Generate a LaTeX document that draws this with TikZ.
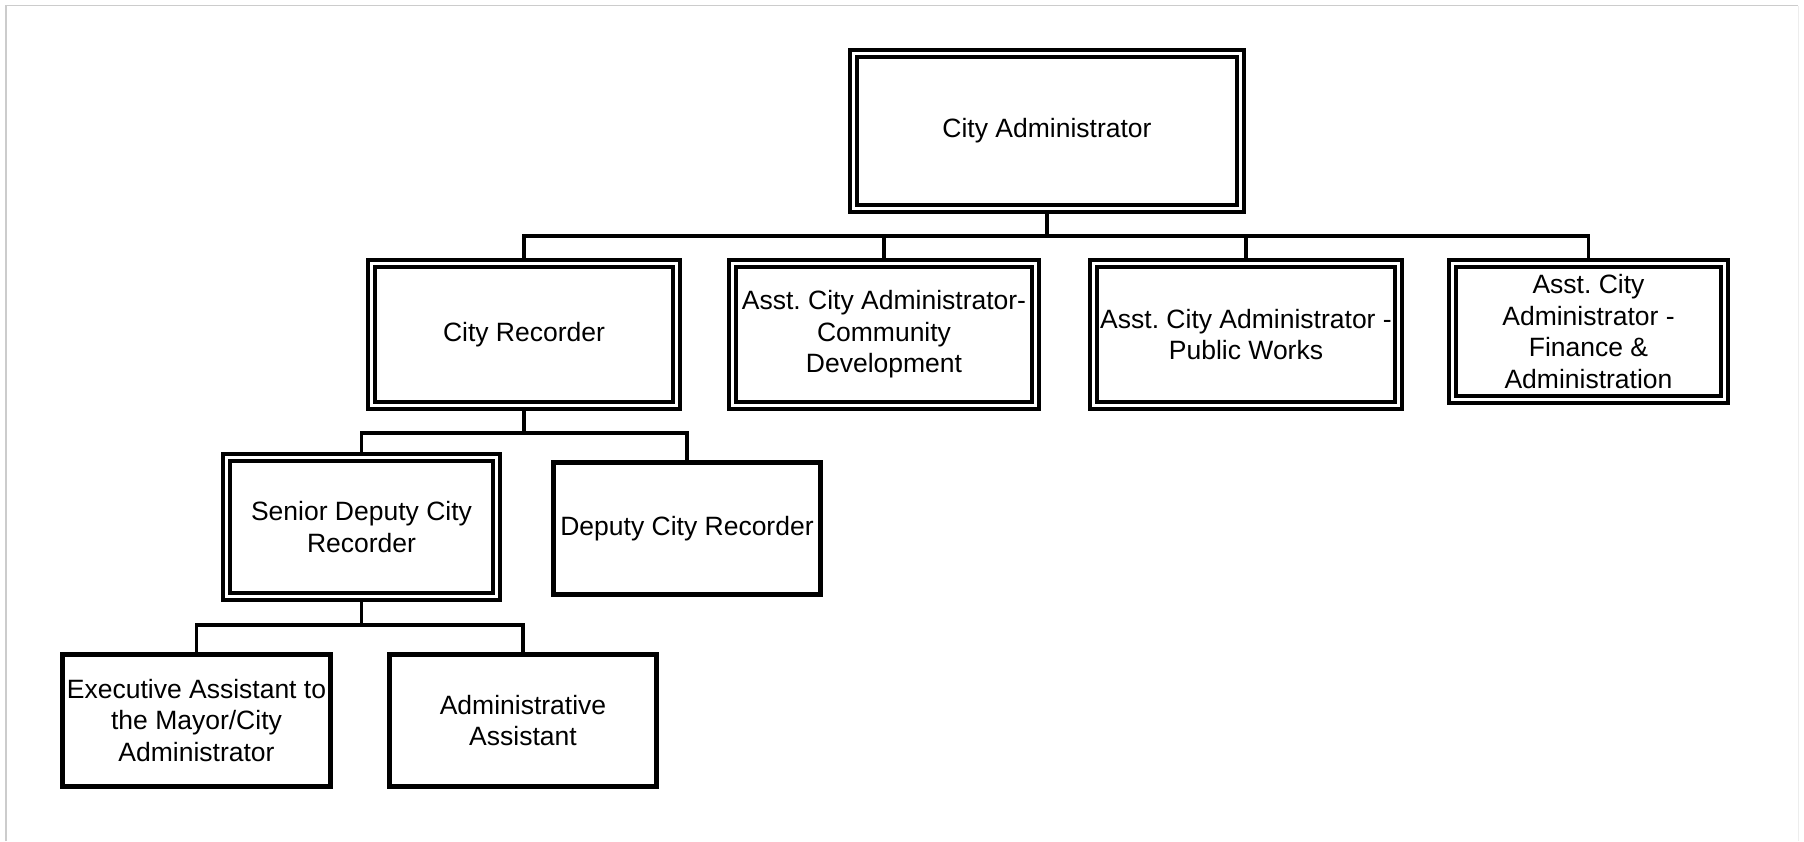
\documentclass[tikz,border=0pt]{standalone}
\usepackage{fontspec}
\setmainfont{Liberation Sans}
\frenchspacing
\begin{document}
\begin{tikzpicture}[x=1pt,y=-1pt,
  boxtext/.style={font=\fontsize{26.5}{31.5}\selectfont\frenchspacing, align=center, inner sep=0pt, text=black},
  dbox/.style 2 args={boxtext, draw, line width=4pt, double=white, double distance=3pt,
    outer sep=5.5pt, minimum width=#1pt-11pt, minimum height=#2pt-11pt},
  sbox/.style 2 args={boxtext, draw, line width=5pt, outer sep=2.5pt,
    minimum width=#1pt-5pt, minimum height=#2pt-5pt},
  link/.style={draw, line width=3.5pt}
]
\useasboundingbox (0,0) rectangle (1804,841);
% frame
\draw[line width=1.6pt, color=black!20] (6,841) -- (6,5.5) -- (1798,5.5);
\draw[line width=1pt, color=black!7] (1798,5.5) -- (1798,841);

% nodes
\node[dbox={398}{166}] (ca) at (1047,131) {City Administrator};
\node[dbox={316}{153}] (cr) at (524,334.5) {City Recorder};
\node[dbox={314}{153}] (cd) at (884,334.5) {Asst. City Administrator-\\Community\\Development};
\node[dbox={316}{153}] (pw) at (1246,334.5) {Asst. City Administrator -\\Public Works};
\node[dbox={283}{147}] (fa) at (1588.5,331.5) {Asst. City\\Administrator -\\Finance \&\\Administration};
\node[dbox={281}{150}] (sd) at (361.5,527) {Senior Deputy City\\Recorder};
\node[sbox={272}{137}] (dcr) at (687,528.5) {Deputy City Recorder};
\node[sbox={273}{137}] (ea) at (196.5,720.5) {Executive Assistant to\\the Mayor/City\\Administrator};
\node[sbox={272}{137}] (aa) at (523,720.5) {Administrative\\Assistant};

% bus coordinates
\coordinate (bus1) at (0,236);
\coordinate (bus2) at (0,433);
\coordinate (bus3) at (0,625);

% connectors
\path[link] (ca.south) -- (ca.south |- bus1);
\path[link] (cr.north) -- (cr.north |- bus1) -- (fa.north |- bus1) -- (fa.north);
\path[link] (cd.north) -- (cd.north |- bus1);
\path[link] (pw.north) -- (pw.north |- bus1);

\path[link] (cr.south) -- (cr.south |- bus2);
\path[link] (sd.north) -- (sd.north |- bus2) -- (dcr.north |- bus2) -- (dcr.north);

\path[link] (sd.south) -- (sd.south |- bus3);
\path[link] (ea.north) -- (ea.north |- bus3) -- (aa.north |- bus3) -- (aa.north);
\end{tikzpicture}
\end{document}
